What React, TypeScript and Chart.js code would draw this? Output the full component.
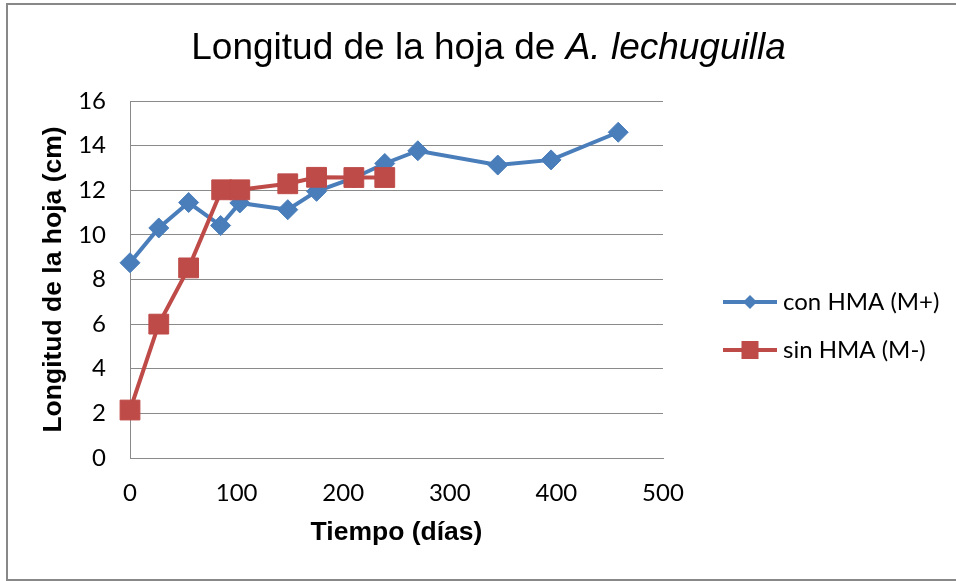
import React, { useEffect, useRef } from "react";
import { Chart, registerables } from "chart.js";

Chart.register(...registerables);

const dias = [0, 27, 55, 85, 103, 148, 175, 210, 239, 270, 345, 395, 458];
const conHMA = [8.75, 10.31, 11.45, 10.42, 11.43, 11.13, 11.95, 12.55, 13.2, 13.77, 13.13, 13.36, 14.6];
const diasSin = [0, 27, 55, 86, 103, 148, 175, 210, 239];
const sinHMA = [2.15, 6.0, 8.52, 12.02, 12.02, 12.29, 12.58, 12.57, 12.57];
const serieNames = ["con HMA (M+)", "sin HMA (M-)"];
const titleNormal = "Longitud de la hoja de ";
const titleItalic = "A. lechuguilla";
const xTitle = "Tiempo (días)";
const yTitle = "Longitud de la hoja (cm)";

const BLUE = "#4A7EBB";
const RED = "#BE4B48";
const GRID = "#8A8A8A";

const decorPlugin = {
  id: "decor",
  beforeDraw(chart: any) {
    const ctx = chart.ctx;
    ctx.save();
    ctx.fillStyle = "#ffffff";
    ctx.fillRect(0, 0, chart.width, chart.height);
    ctx.strokeStyle = "#888888";
    ctx.lineWidth = 2;
    ctx.strokeRect(7, 4, chart.width + 10, 576);
    ctx.restore();
  },
  afterDraw(chart: any) {
    const ctx = chart.ctx;
    ctx.save();
    const fNorm = "37px 'Liberation Sans', Arial, sans-serif";
    const fItal = "italic 37px 'Liberation Sans', Arial, sans-serif";
    ctx.font = fNorm;
    const w1 = ctx.measureText(titleNormal).width;
    ctx.font = fItal;
    const w2 = ctx.measureText(titleItalic).width;
    const cx = 488.5;
    const x0 = cx - (w1 + w2) / 2;
    ctx.fillStyle = "#000";
    ctx.textBaseline = "alphabetic";
    ctx.textAlign = "left";
    ctx.font = fNorm;
    ctx.fillText(titleNormal, x0, 59);
    ctx.font = fItal;
    ctx.fillText(titleItalic, x0 + w1, 59);

    const ds = chart.data.datasets;
    const rows = [302, 350];
    ds.forEach((d: any, i: number) => {
      const y = rows[i];
      ctx.strokeStyle = d.borderColor;
      ctx.lineWidth = 4;
      ctx.beginPath();
      ctx.moveTo(723, y);
      ctx.lineTo(777, y);
      ctx.stroke();
      ctx.fillStyle = d.backgroundColor;
      if (d.pointStyle === "rectRot") {
        const r = 7;
        ctx.beginPath();
        ctx.moveTo(750 - r, y);
        ctx.lineTo(750, y - r);
        ctx.lineTo(750 + r, y);
        ctx.lineTo(750, y + r);
        ctx.closePath();
        ctx.fill();
      } else {
        ctx.fillRect(750 - 8.5, y - 9, 17, 18);
      }
      ctx.fillStyle = "#000";
      ctx.font = "24px Lato, sans-serif";
      ctx.textBaseline = "middle";
      ctx.textAlign = "left";
      ctx.fillText(d.label, 783, y);
    });
    ctx.restore();
  },
};

export default function App() {
  const ref = useRef<HTMLCanvasElement | null>(null);
  useEffect(() => {
    if (!ref.current) return;
    const chart = new Chart(ref.current, {
      type: "line",
      data: {
        datasets: [
          {
            label: serieNames[0],
            data: dias.map((d, i) => ({ x: d, y: conHMA[i] })),
            borderColor: BLUE,
            backgroundColor: BLUE,
            borderWidth: 4,
            pointStyle: "rectRot",
            pointRadius: 10,
            pointBorderWidth: 1,
            pointBorderColor: BLUE,
            pointBackgroundColor: BLUE,
            tension: 0,
            clip: false,
            order: 1,
          },
          {
            label: serieNames[1],
            data: diasSin.map((d, i) => ({ x: d, y: sinHMA[i] })),
            borderColor: RED,
            backgroundColor: RED,
            borderWidth: 4,
            pointStyle: "rect",
            pointRadius: 14,
            pointBorderWidth: 1,
            pointBorderColor: RED,
            pointBackgroundColor: RED,
            tension: 0,
            clip: false,
            order: 0,
          },
        ],
      },
      options: {
        responsive: false,
        animation: false,
        layout: { padding: { left: 0, top: 101, right: 293, bottom: 0 } },
        plugins: {
          legend: { display: false },
          title: { display: false },
          tooltip: { enabled: false },
        },
        scales: {
          x: {
            type: "linear",
            min: 0,
            max: 500,
            ticks: {
              stepSize: 100,
              color: "#000",
              font: { family: "Lato, sans-serif", size: 24 },
              padding: 21,
            },
            grid: { display: false, drawTicks: false },
            border: { display: true, color: GRID, width: 1 },
            title: {
              display: true,
              text: xTitle,
              color: "#000",
              font: { family: "'Liberation Sans', Arial, sans-serif", size: 26.5, weight: "bold" },
              padding: { top: 0, bottom: 32 },
            },
            afterFit: (scale: any) => {
              scale.height = 123;
            },
          },
          y: {
            type: "linear",
            min: 0,
            max: 16,
            ticks: {
              stepSize: 2,
              color: "#000",
              font: { family: "Lato, sans-serif", size: 24 },
              padding: 24,
            },
            grid: { color: GRID, lineWidth: 1, drawTicks: false },
            border: { display: true, color: GRID, width: 1 },
            title: {
              display: true,
              text: yTitle,
              color: "#000",
              font: { family: "'Liberation Sans', Arial, sans-serif", size: 26.5, weight: "bold" },
              padding: { top: 38, bottom: 0 },
            },
            afterFit: (scale: any) => {
              scale.width = 130;
            },
          },
        },
      },
      plugins: [decorPlugin],
    });
    return () => chart.destroy();
  }, []);
  return (
    <div style={{ position: "fixed", left: 0, top: 0, width: 956, height: 581, background: "#fff" }}>
      <canvas ref={ref} width={956} height={581} style={{ display: "block", width: 956, height: 581 }} />
    </div>
  );
}
